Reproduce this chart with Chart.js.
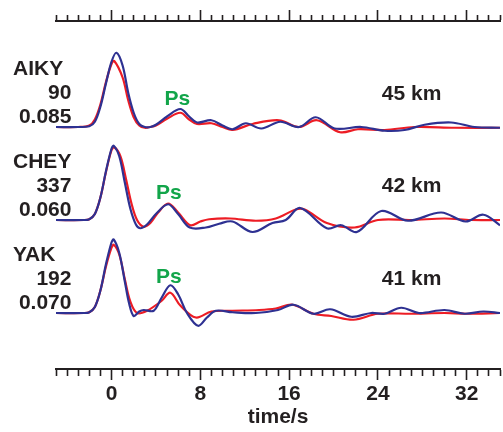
<!DOCTYPE html>
<html>
<head>
<meta charset="utf-8">
<script src="https://cdn.jsdelivr.net/npm/chart.js@4.4.1/dist/chart.umd.min.js"></script>
<style>
html,body{margin:0;padding:0;background:#fff;}
#wrap{width:503px;height:432px;}
</style>
</head>
<body>
<div id="wrap"><canvas id="c" width="503" height="432"></canvas></div>
<script>
// ---- data ----
const stations = ['AIKY', 'CHEY', 'YAK'];
const backAzimuths = ['90', '337', '192'];
const rayParams = ['0.085', '0.060', '0.070'];
const mohoDepths = ['45 km', '42 km', '41 km'];
const stationOffsets = [0, -1.24, -2.48];
const xTickLabels = [0, 8, 16, 24, 32];

// AIKY
const aikyBlueT = [-5,-3,-2,-1.5,-1,-0.5,0,0.45,1,1.5,2,2.5,3,3.5,4,5,6.2,7,7.7,9,10,10.9,12.1,13.5,15.2,16.9,18.4,20.1,22.5,24.6,26.4,28.2,30.6,32.7,35];
const aikyBlueV = [0,0,0.01,0.07,0.27,0.58,0.87,0.99,0.82,0.46,0.19,0.04,0,0,0.03,0.14,0.24,0.14,0.06,0.09,0.02,-0.03,0.05,-0.02,0.07,0,0.13,-0.02,0,-0.05,-0.04,0.03,0.06,0,-0.01];
const aikyRedT = [-5,-3,-2,-1.5,-1,-0.5,0,0.25,1,1.5,2,2.5,3,3.5,4,5,6.2,7,7.7,9,10,10.9,12.7,15.1,16.9,18.5,20.6,22.2,24.6,27.3,30.9,35];
const aikyRedV = [0,0,0.02,0.1,0.3,0.6,0.84,0.88,0.66,0.36,0.13,0.02,-0.01,0,0.02,0.11,0.19,0.1,0.04,0.05,0,-0.04,0.04,0.09,0,0.09,-0.07,-0.03,-0.04,0,-0.01,-0.01];

// CHEY
const cheyBlueT = [-5,-2.5,-2,-1.5,-1,-0.5,0,0.2,0.7,1.2,1.7,2.2,2.6,3.2,4,5.1,6,7.05,8.5,9.7,10.9,12.7,14.5,15.7,17,19.4,20.7,22.1,24.3,26.7,29.7,31.9,33.5,35];
const cheyBlueV = [0,0,0.01,0.08,0.3,0.65,0.95,0.99,0.85,0.5,0.15,-0.06,-0.11,-0.06,0.08,0.21,0.08,-0.1,-0.1,-0.05,-0.02,-0.16,-0.04,0,0.16,-0.11,-0.07,-0.16,0.12,-0.01,0.1,-0.02,0.07,-0.07];
const cheyRedT = [-5,-2.5,-2,-1.5,-1,-0.5,0,0.25,0.8,1.3,1.8,2.3,2.9,3.5,4.2,5.1,6,7.1,8,8.8,10.7,13,14.8,16.6,17.4,19.4,21.9,24,27,30,32.4,35];
const cheyRedV = [0,0,0.01,0.08,0.3,0.64,0.93,0.97,0.85,0.55,0.22,0,-0.09,-0.04,0.1,0.22,0.1,-0.07,-0.02,0.01,0.02,-0.01,0.02,0.14,0.14,-0.04,-0.1,0,0,0.02,0,0];

// YAK
const yakBlueT = [-5,-2.5,-2,-1.5,-1,-0.5,0,0.2,0.7,1.2,1.6,2,2.5,2.9,3.8,4.5,5.3,6,6.8,7.8,8.6,9.4,10.9,13,15,16.4,18.2,19.7,21.6,23.4,24.6,26.1,27.7,30,31.8,33.5,35];
const yakBlueV = [0,0,0.01,0.08,0.3,0.65,0.94,0.98,0.8,0.42,0.12,-0.04,0.02,0.04,0.03,0.2,0.37,0.25,0,-0.17,-0.06,0.03,0.01,0,0.04,0.11,-0.01,0.05,-0.05,0,-0.01,0.07,0,0.04,-0.01,0.02,0];
const yakRedT = [-5,-2.5,-2,-1.5,-1,-0.5,0,0.2,0.7,1.2,1.7,2.3,3.2,4.5,5.3,6.2,7.6,9,10.9,13.3,14.8,16.3,18.2,19.8,21.8,24,27,30,32,35];
const yakRedV = [0,0,0.01,0.08,0.3,0.62,0.87,0.91,0.78,0.45,0.15,0,0.03,0.16,0.27,0.1,-0.06,0.02,0.03,0.04,0.06,0.11,-0.01,-0.04,-0.09,-0.01,-0.01,0,-0.01,0];

// ---- styles ----
const INK = '#231f20';
const RED = '#ed1c24';
const BLUE = '#2e3192';
const GREEN = '#12a54a';
const FONT = '"Liberation Sans", Arial, Helvetica, sans-serif';

function pts(t, v, off) { return t.map((x, i) => ({ x: x, y: v[i] + off })); }

const traces = [
  [aikyBlueT, aikyBlueV, aikyRedT, aikyRedV],
  [cheyBlueT, cheyBlueV, cheyRedT, cheyRedV],
  [yakBlueT, yakBlueV, yakRedT, yakRedV]
];
const datasets = [];
traces.forEach((tr, i) => {
  datasets.push({ label: stations[i] + ' blue', data: pts(tr[0], tr[1], stationOffsets[i]), borderColor: BLUE, order: 0 });
  datasets.push({ label: stations[i] + ' red', data: pts(tr[2], tr[3], stationOffsets[i]), borderColor: RED, order: 1 });
});
datasets.forEach(d => {
  d.borderWidth = 2.2; d.pointRadius = 0; d.fill = false;
  d.tension = 0.35;
});

// text annotation positions (relative to each station baseline)
const labelPos = {
  nameX: -8.87, numX: -3.61, kmX: 24.35,
  nameDy: 0.80, numDy: 0.475, ampDy: 0.16,
  psX: [5.94, 5.17, 5.17], psDy: [0.393, 0.383, 0.496],
  kmDy: [0.46, 0.467, 0.467]
};

const textPlugin = {
  id: 'texts',
  afterDraw(chart) {
    const ctx = chart.ctx, xs = chart.scales.x, ys = chart.scales.y;
    const size = 21;
    const capHalf = 0.716 * size / 2;
    ctx.save();
    ctx.font = 'bold ' + size + 'px ' + FONT;
    ctx.textBaseline = 'alphabetic';
    const put = (txt, t, v, align, color) => {
      ctx.fillStyle = color;
      ctx.textAlign = align;
      ctx.fillText(txt, xs.getPixelForValue(t), ys.getPixelForValue(v) + capHalf);
    };
    stations.forEach((s, i) => {
      const o = stationOffsets[i];
      put(s, labelPos.nameX, o + labelPos.nameDy, 'left', INK);
      put(backAzimuths[i], labelPos.numX, o + labelPos.numDy, 'right', INK);
      put(rayParams[i], labelPos.numX, o + labelPos.ampDy, 'right', INK);
      put('Ps', labelPos.psX[i], o + labelPos.psDy[i], 'center', GREEN);
      put(mohoDepths[i], labelPos.kmX, o + labelPos.kmDy[i], 'left', INK);
    });
    ctx.restore();
  }
};

const minorDashBottom = ctx => (ctx.tick && xTickLabels.includes(ctx.tick.value)) ? [] : [6, 100];
const minorDashTop = ctx => (ctx.tick && xTickLabels.includes(ctx.tick.value)) ? [] : [0, 5, 6, 100];

new Chart(document.getElementById('c'), {
  type: 'line',
  data: { datasets: datasets },
  options: {
    responsive: false,
    animation: false,
    events: [],
    layout: { padding: { left: 56, right: 0, top: 0, bottom: 0 } },
    plugins: { legend: { display: false }, tooltip: { enabled: false } },
    scales: {
      x: {
        type: 'linear', position: 'bottom', min: -5, max: 35,
        ticks: {
          stepSize: 1, autoSkip: false, maxRotation: 0, minRotation: 0,
          padding: 2, color: INK,
          font: { family: FONT, size: 21, weight: 'bold' },
          callback: v => xTickLabels.includes(v) ? String(v) : ''
        },
        grid: {
          drawOnChartArea: false, drawTicks: true, tickLength: 11,
          tickWidth: 1.6, tickColor: INK, tickBorderDash: minorDashBottom
        },
        border: { display: true, color: INK, width: 2 },
        title: {
          display: true, text: 'time/s', color: INK,
          font: { family: FONT, size: 21, weight: 'bold' },
          padding: { top: 0, bottom: 2 }
        },
        afterFit: s => { s.height = 63; }
      },
      x2: {
        type: 'linear', position: 'top', min: -5, max: 35,
        ticks: { stepSize: 1, autoSkip: false, maxRotation: 0, callback: () => '' },
        grid: {
          drawOnChartArea: false, drawTicks: true, tickLength: 11,
          tickWidth: 1.6, tickColor: INK, tickBorderDash: minorDashTop
        },
        border: { display: true, color: INK, width: 2 },
        afterFit: s => { s.height = 21; }
      },
      y: {
        type: 'linear', display: false, min: -3.2267, max: 1.4133
      }
    }
  },
  plugins: [textPlugin]
});
</script>
</body>
</html>
